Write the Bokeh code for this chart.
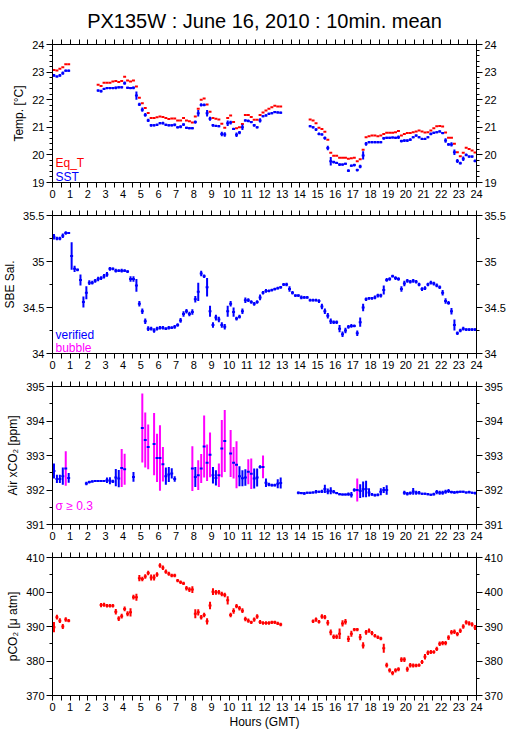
from bokeh.plotting import figure
from bokeh.models import (ColumnDataSource, LinearAxis, FixedTicker, Range1d,
                          Label, NumeralTickFormatter, CustomLabelingPolicy)
from bokeh.layouts import column
from bokeh.embed import file_html
from bokeh.resources import INLINE

N = None
FONT = "Liberation Sans"
RED, BLUE, MAGENTA = "#ff0000", "#0000ff", "#ff00ff"

TITLE = "PX135W : June 16, 2010 : 10min. mean"

# 10-minute mean slots over the day (minutes after 00:00 GMT)
SLOT_MINUTES = list(range(0, 1440, 10))
HOUR_TICKS = list(range(0, 25))
HALF_HOUR_TICKS = [h + 0.5 for h in range(24)]

# ---------------- Temperature [deg C] (one row per hour, 6 ten-minute means) -----
EQ_T = [
    [23.08, 23.06, 23.12, 23.18, 23.28, 23.28],
    [N, N, N, N, N, N],
    [N, N, N, 22.54, 22.50, 22.61],
    [22.61, 22.61, 22.66, 22.68, 22.64, 22.68],
    [22.83, 22.70, 22.66, 22.70, 22.48, 22.07],
    [21.87, 21.70, 21.52, 21.34, 21.34, 21.36],
    [21.39, 21.37, 21.34, 21.30, 21.32, 21.32],
    [21.25, 21.25, 21.34, 21.25, 21.22, 21.17],
    [21.39, 21.67, 22.00, 22.04, 21.83, 21.56],
    [21.34, 21.31, 21.28, 21.13, 20.98, 21.34],
    [21.43, 21.19, 20.97, 21.00, 21.12, 21.45],
    [21.45, 21.37, 21.27, 21.27, 21.45, 21.54],
    [21.61, 21.67, 21.73, 21.78, 21.75, 21.75],
    [N, N, N, N, N, N],
    [N, N, N, 21.28, 21.25, 21.15],
    [20.98, 20.94, 20.84, 20.55, 20.08, 19.97],
    [19.97, 19.90, 19.90, 19.90, 19.86, 19.88],
    [19.90, 19.77, 19.84, 20.19, 20.64, 20.68],
    [20.70, 20.70, 20.68, 20.70, 20.76, 20.80],
    [20.80, 20.80, 20.82, 20.87, 20.70, 20.76],
    [20.79, 20.79, 20.82, 20.85, 20.88, 20.85],
    [20.81, 20.82, 20.88, 20.97, 21.04, 21.05],
    [21.03, 20.81, 20.62, 20.62, 20.40, 20.10],
    [19.95, 20.08, 20.26, 20.21, 20.16, 20.09],
]
SST = [
    [22.88, 22.84, 22.88, 22.96, 23.05, 23.05],
    [N, N, N, N, N, N],
    [N, N, N, 22.33, 22.31, 22.39],
    [22.42, 22.42, 22.42, 22.43, 22.45, 22.45],
    [22.60, 22.43, 22.42, 22.43, 22.15, 21.83],
    [21.64, 21.45, 21.25, 21.07, 21.07, 21.09],
    [21.15, 21.15, 21.09, 21.07, 21.07, 21.09],
    [21.00, 21.02, 21.10, 20.98, 20.97, 20.97],
    [21.19, 21.51, 21.81, 21.81, 21.51, 21.31],
    [21.07, 21.05, 21.04, 20.76, 20.74, 21.15],
    [21.17, 20.94, 20.73, 20.81, 21.00, 21.25],
    [21.23, 21.19, 21.07, 21.00, 21.25, 21.40],
    [21.43, 21.49, 21.51, 21.55, 21.54, 21.53],
    [N, N, N, N, N, N],
    [N, N, N, 21.04, 21.00, 20.92],
    [20.76, 20.74, 20.61, 20.25, 19.77, 19.74],
    [19.71, 19.65, 19.65, 19.68, 19.43, 19.61],
    [19.63, 19.45, 19.58, 19.98, 20.40, 20.46],
    [20.46, 20.46, 20.46, 20.46, 20.60, 20.62],
    [20.62, 20.63, 20.62, 20.64, 20.50, 20.52],
    [20.52, 20.55, 20.64, 20.70, 20.64, 20.58],
    [20.58, 20.64, 20.76, 20.80, 20.82, 20.85],
    [20.79, 20.52, 20.38, 20.38, 20.10, 19.78],
    [19.70, 19.86, 20.00, 19.94, 19.94, 19.78],
]
SST_SD = [
    [0.05, 0.04, 0.05, 0.06, 0.04, 0.04],
    [N, N, N, N, N, N],
    [N, N, N, 0.04, 0.05, 0.04],
    [0.04, 0.04, 0.04, 0.05, 0.04, 0.04],
    [0.06, 0.04, 0.04, 0.05, 0.15, 0.06],
    [0.08, 0.07, 0.06, 0.05, 0.04, 0.04],
    [0.04, 0.05, 0.04, 0.04, 0.04, 0.05],
    [0.04, 0.05, 0.05, 0.04, 0.04, 0.04],
    [0.06, 0.12, 0.06, 0.05, 0.12, 0.07],
    [0.05, 0.04, 0.04, 0.08, 0.08, 0.10],
    [0.07, 0.04, 0.08, 0.06, 0.10, 0.04],
    [0.05, 0.04, 0.05, 0.04, 0.08, 0.04],
    [0.04, 0.04, 0.04, 0.04, 0.04, 0.04],
    [N, N, N, N, N, N],
    [N, N, N, 0.04, 0.04, 0.05],
    [0.05, 0.04, 0.06, 0.08, 0.15, 0.05],
    [0.04, 0.05, 0.04, 0.04, 0.05, 0.04],
    [0.05, 0.05, 0.06, 0.15, 0.07, 0.04],
    [0.04, 0.04, 0.04, 0.04, 0.05, 0.04],
    [0.04, 0.04, 0.04, 0.06, 0.05, 0.05],
    [0.05, 0.05, 0.04, 0.04, 0.04, 0.04],
    [0.04, 0.04, 0.05, 0.04, 0.04, 0.04],
    [0.04, 0.08, 0.05, 0.08, 0.10, 0.07],
    [0.05, 0.08, 0.05, 0.04, 0.04, 0.05],
]

# ---------------- SBE salinity -------------------------------------------------
SAL = [
    [35.27, 35.25, 35.25, 35.28, 35.31, 35.31],
    [35.06, 34.92, 34.91, 34.80, 34.56, 34.66],
    [34.77, 34.77, 34.79, 34.81, 34.82, 34.84],
    [34.86, 34.92, 34.92, 34.90, 34.90, 34.90],
    [34.90, 34.89, 34.81, 34.81, 34.74, 34.54],
    [34.46, 34.35, 34.27, 34.27, 34.25, 34.27],
    [34.28, 34.28, 34.27, 34.28, 34.28, 34.29],
    [34.31, 34.36, 34.43, 34.46, 34.43, 34.45],
    [34.59, 34.67, 34.87, 34.84, 34.72, 34.46],
    [34.31, 34.39, 34.37, 34.31, 34.29, 34.46],
    [34.54, 34.45, 34.38, 34.40, 34.46, 34.58],
    [34.58, 34.56, 34.54, 34.56, 34.61, 34.66],
    [34.68, 34.68, 34.69, 34.70, 34.71, 34.72],
    [34.75, 34.75, 34.70, 34.66, 34.63, 34.63],
    [34.61, 34.61, 34.61, 34.58, 34.58, 34.58],
    [34.57, 34.51, 34.46, 34.41, 34.35, 34.34],
    [34.34, 34.27, 34.21, 34.25, 34.29, 34.30],
    [34.30, 34.22, 34.34, 34.50, 34.59, 34.60],
    [34.60, 34.61, 34.63, 34.63, 34.69, 34.80],
    [34.81, 34.84, 34.82, 34.81, 34.70, 34.76],
    [34.79, 34.78, 34.79, 34.78, 34.75, 34.70],
    [34.71, 34.75, 34.77, 34.76, 34.74, 34.72],
    [34.66, 34.57, 34.55, 34.46, 34.31, 34.22],
    [34.25, 34.27, 34.26, 34.26, 34.26, 34.26],
]
SAL_SD = [
    [0.03, 0.02, 0.02, 0.025, 0.02, 0.01],
    [0.15, 0.035, 0.015, 0.06, 0.06, 0.07],
    [0.025, 0.02, 0.02, 0.025, 0.02, 0.025],
    [0.025, 0.02, 0.015, 0.02, 0.015, 0.02],
    [0.015, 0.015, 0.03, 0.03, 0.07, 0.03],
    [0.03, 0.03, 0.025, 0.02, 0.025, 0.02],
    [0.02, 0.02, 0.015, 0.02, 0.015, 0.02],
    [0.02, 0.025, 0.03, 0.025, 0.025, 0.03],
    [0.035, 0.10, 0.03, 0.02, 0.10, 0.06],
    [0.03, 0.03, 0.03, 0.03, 0.03, 0.06],
    [0.03, 0.05, 0.02, 0.02, 0.03, 0.03],
    [0.02, 0.02, 0.02, 0.02, 0.03, 0.02],
    [0.02, 0.015, 0.015, 0.015, 0.015, 0.015],
    [0.015, 0.02, 0.03, 0.02, 0.015, 0.015],
    [0.02, 0.015, 0.015, 0.015, 0.015, 0.015],
    [0.02, 0.03, 0.03, 0.03, 0.03, 0.02],
    [0.02, 0.04, 0.03, 0.03, 0.02, 0.02],
    [0.015, 0.03, 0.05, 0.04, 0.02, 0.015],
    [0.015, 0.02, 0.02, 0.02, 0.05, 0.02],
    [0.02, 0.015, 0.02, 0.02, 0.03, 0.03],
    [0.02, 0.02, 0.02, 0.02, 0.02, 0.02],
    [0.02, 0.02, 0.02, 0.02, 0.02, 0.02],
    [0.03, 0.03, 0.02, 0.035, 0.06, 0.02],
    [0.02, 0.02, 0.015, 0.015, 0.015, 0.015],
]

# ---------------- Air xCO2 [ppm] -------------------------------------------------
AIR = [
    [392.55, 392.32, 392.32, 392.40, 392.62, 392.35],
    [N, N, N, N, N, 392.19],
    [392.23, 392.25, 392.26, 392.26, 392.26, 392.26],
    [392.28, 392.27, 392.25, 392.36, 392.33, 392.64],
    [392.60, N, N, 392.38, N, N],
    [393.80, 393.45, 393.25, N, 393.33, 392.93],
    [392.93, 392.75, 392.40, 392.45, 392.48, 392.32],
    [N, N, N, N, N, 392.62],
    [392.38, 392.43, 392.62, 393.26, 392.79, 393.02],
    [392.43, 392.35, 392.43, 393.20, 393.42, N],
    [393.06, 392.79, 392.73, 392.40, 392.34, 392.36],
    [392.53, 392.47, 392.33, 392.36, 392.67, 392.67],
    [392.21, 392.16, 392.14, 392.14, 392.18, 392.20],
    [N, N, N, N, N, 391.92],
    [391.91, 391.90, 391.92, 391.92, 391.93, 391.95],
    [391.95, 391.96, 392.03, 391.96, 391.98, 391.95],
    [391.91, 391.88, 391.87, 391.87, 391.88, 391.86],
    [392.00, 392.00, 391.97, 392.02, 392.03, 391.93],
    [391.87, 391.85, 391.86, 391.95, 392.00, 392.00],
    [N, N, N, N, N, 391.92],
    [391.89, 391.91, 391.96, 391.92, 391.92, 391.89],
    [391.89, 391.88, 391.86, 391.88, 391.94, 391.92],
    [391.92, 391.95, 391.97, 391.94, 391.93, 391.94],
    [391.95, 391.95, 391.93, 391.94, 391.92, 391.91],
]
AIR_SD = [
    [0.22, 0.12, 0.12, 0.25, 0.50, 0.14],
    [N, N, N, N, N, 0.05],
    [0.04, 0.03, 0.03, 0.03, 0.03, 0.03],
    [0.08, 0.10, 0.05, 0.25, 0.25, 0.55],
    [0.45, N, N, 0.14, N, N],
    [1.00, 0.80, 0.65, N, 0.90, 0.70],
    [0.95, 0.50, 0.25, 0.22, 0.15, 0.08],
    [N, N, N, N, N, 0.65],
    [0.29, 0.43, 0.42, 0.90, 0.53, 0.65],
    [0.24, 0.22, 0.34, 0.83, 0.90, N],
    [0.68, 0.46, 0.68, 0.29, 0.23, 0.24],
    [0.36, 0.44, 0.29, 0.26, 0.05, 0.33],
    [0.12, 0.05, 0.04, 0.04, 0.13, 0.16],
    [N, N, N, N, N, 0.04],
    [0.03, 0.04, 0.03, 0.03, 0.03, 0.05],
    [0.03, 0.05, 0.12, 0.08, 0.10, 0.05],
    [0.03, 0.03, 0.03, 0.03, 0.05, 0.08],
    [0.05, 0.33, 0.20, 0.23, 0.24, 0.12],
    [0.04, 0.04, 0.04, 0.10, 0.09, 0.14],
    [N, N, N, N, N, 0.06],
    [0.05, 0.05, 0.10, 0.06, 0.05, 0.03],
    [0.03, 0.03, 0.03, 0.04, 0.06, 0.06],
    [0.06, 0.06, 0.06, 0.04, 0.04, 0.04],
    [0.03, 0.03, 0.03, 0.04, 0.03, 0.04],
]
SIGMA_LIMIT = 0.3

# ---------------- pCO2 [micro atm] -----------------------------------------------
PCO2 = [
    [389.8, 392.7, 391.7, 390.0, 392.0, 391.7],
    [N, N, N, N, N, N],
    [N, N, N, N, 396.2, 396.3],
    [396.0, 396.0, 396.0, 394.3, 392.3, 393.0],
    [395.1, 393.7, 394.1, 398.5, 398.5, 404.0],
    [403.8, 404.5, 405.5, 404.2, 404.2, 405.1],
    [407.7, 407.0, 405.9, 405.3, 404.8, 404.8],
    [403.3, 402.8, 402.5, 401.1, 400.7, 400.7],
    [393.7, 394.1, 392.7, 393.3, 391.5, 396.1],
    [400.1, 399.9, 399.9, 399.4, 399.1, 397.6],
    [393.3, 394.5, 395.9, 395.3, 394.6, 392.2],
    [391.7, 391.2, 392.0, 392.9, 391.3, 391.0],
    [391.0, 391.0, 391.2, 391.2, 390.9, 390.6],
    [N, N, N, N, N, N],
    [N, N, N, N, 391.5, 392.0],
    [391.4, 392.9, 392.7, 391.1, 388.3, 387.0],
    [387.0, 387.9, 390.9, 391.4, 386.4, 387.9],
    [389.1, 389.1, 386.9, 384.5, 388.3, 388.8],
    [388.1, 387.3, 386.9, 386.5, 383.7, 378.8],
    [377.3, 376.5, 377.3, 377.6, 380.4, 380.4],
    [377.6, 378.8, 378.7, 378.7, 378.8, 379.7],
    [381.2, 382.4, 382.6, 382.6, 383.5, 385.0],
    [385.2, 385.2, 386.8, 388.3, 388.5, 387.8],
    [388.8, 390.0, 391.2, 390.9, 390.6, 389.7],
]
PCO2_SD = [
    [1.5, 0.7, 0.7, 0.7, 0.65, 0.5],
    [N, N, N, N, N, N],
    [N, N, N, N, 0.6, 0.6],
    [0.5, 0.5, 0.5, 0.8, 0.7, 0.7],
    [0.7, 0.7, 1.2, 0.7, 1.0, 0.9],
    [0.65, 0.65, 0.65, 0.9, 0.9, 0.65],
    [0.65, 0.65, 0.6, 0.6, 0.5, 0.5],
    [0.5, 0.5, 0.5, 0.65, 0.7, 1.0],
    [1.3, 0.9, 0.65, 0.65, 0.9, 1.1],
    [1.0, 0.7, 0.65, 0.65, 0.65, 1.2],
    [0.65, 0.8, 0.6, 0.65, 0.7, 0.65],
    [0.6, 0.5, 0.6, 0.65, 0.6, 0.5],
    [0.5, 0.5, 0.5, 0.5, 0.5, 0.5],
    [N, N, N, N, N, N],
    [N, N, N, N, 0.5, 0.6],
    [0.5, 0.65, 0.6, 0.8, 0.8, 0.65],
    [0.65, 1.5, 0.9, 0.8, 0.9, 0.9],
    [0.5, 0.5, 0.9, 0.9, 0.7, 0.6],
    [0.6, 0.5, 0.5, 0.5, 1.3, 0.7],
    [0.6, 0.6, 0.6, 0.6, 0.7, 0.7],
    [0.7, 0.65, 0.6, 0.5, 0.5, 0.6],
    [0.8, 0.65, 0.6, 0.5, 0.6, 0.65],
    [0.6, 0.6, 0.7, 0.65, 0.65, 0.6],
    [0.65, 0.65, 0.6, 0.6, 0.6, 0.7],
]


def flat(rows):
    out = []
    for r in rows:
        out.extend(r)
    return out


HIDE_ALL_LABELS = """
try {
  for (let i = 0; i < indices.size; i++) { indices.unset(i); }
} catch (e) {}
return indices;
"""


def style_axis(ax, tick_out, minor_out, labels=True, fmt=None):
    ax.axis_line_color = "black"
    ax.major_tick_line_color = "black"
    ax.minor_tick_line_color = "black"
    ax.major_tick_in = 0
    ax.minor_tick_in = 0
    ax.major_tick_out = tick_out
    ax.minor_tick_out = minor_out
    ax.major_label_text_font = FONT
    ax.major_label_text_color = "black"
    ax.axis_label_text_font = FONT
    ax.axis_label_text_font_style = "normal"
    ax.axis_label_text_font_size = "12px"
    ax.axis_label_text_color = "black"
    ax.axis_label_standoff = 3
    if labels:
        ax.major_label_text_font_size = "11px"
        ax.major_label_standoff = 2
    else:
        ax.major_label_text_font_size = "0px"
        ax.major_label_standoff = 0
        ax.major_label_policy = CustomLabelingPolicy(code=HIDE_ALL_LABELS)
    if fmt is not None:
        ax.formatter = fmt


def make_panel(ylabel, ylo, yhi, ymajor, yminor, top, bottom, title=None, xlabel=None):
    kw = dict(frame_width=424, frame_height=138,
              x_range=Range1d(0, 24), y_range=Range1d(ylo, yhi),
              output_backend="svg", toolbar_location=None,
              min_border_left=45, min_border_right=30,
              min_border_top=top, min_border_bottom=bottom,
              background_fill_color="white", border_fill_color="white")
    if title:
        kw["title"] = title
    p = figure(**kw)
    p.grid.visible = False
    p.outline_line_color = "black"
    p.outline_line_width = 1
    if title:
        p.title.text_font = FONT
        p.title.text_font_size = "20px"
        p.title.text_font_style = "normal"
        p.title.align = "center"
        p.title.text_color = "black"
        p.title.standoff = 15

    xt = FixedTicker(ticks=HOUR_TICKS, minor_ticks=HALF_HOUR_TICKS)
    yt = FixedTicker(ticks=ymajor, minor_ticks=yminor)

    xb = p.xaxis[0]
    xb.ticker = xt
    style_axis(xb, 5, 5, labels=True, fmt=NumeralTickFormatter(format="0"))
    if xlabel:
        xb.axis_label = xlabel
        xb.axis_label_standoff = 1

    yl = p.yaxis[0]
    yl.ticker = yt
    style_axis(yl, 6, 3, labels=True, fmt=NumeralTickFormatter(format="0.[0]"))
    yl.axis_label = ylabel
    yl.axis_label_standoff = 3

    xtop = LinearAxis(ticker=FixedTicker(ticks=HOUR_TICKS, minor_ticks=HALF_HOUR_TICKS))
    style_axis(xtop, 5, 5, labels=False)
    p.add_layout(xtop, "above")

    yr = LinearAxis(ticker=FixedTicker(ticks=ymajor, minor_ticks=yminor))
    style_axis(yr, 6, 3, labels=True, fmt=NumeralTickFormatter(format="0.[0]"))
    p.add_layout(yr, "right")
    return p


def draw_points(p, values, sds, hcolor, vcolors):
    hx0, hx1, hy = [], [], []
    vx, vy0, vy1, vc = [], [], [], []
    for m, v, s, c in zip(SLOT_MINUTES, values, sds, vcolors):
        if v is None:
            continue
        hx0.append(m / 60.0)
        hx1.append((m + 10) / 60.0)
        hy.append(v)
        if s:
            vx.append((m + 5) / 60.0)
            vy0.append(v - s)
            vy1.append(v + s)
            vc.append(c)
    vsrc = ColumnDataSource(dict(x=vx, y0=vy0, y1=vy1, c=vc))
    p.segment(x0="x", x1="x", y0="y0", y1="y1", color="c", line_width=2,
              source=vsrc)
    hsrc = ColumnDataSource(dict(x0=hx0, x1=hx1, y=hy))
    p.segment(x0="x0", x1="x1", y0="y", y1="y", color=hcolor, line_width=2,
              source=hsrc)


def legend_text(p, text, x, y, color):
    p.add_layout(Label(x=x, y=y, text=text, text_color=color,
                       text_font=FONT, text_font_size="12px",
                       text_baseline="alphabetic", text_align="left"))


eq_t = flat(EQ_T)
sst, sst_sd = flat(SST), flat(SST_SD)
sal, sal_sd = flat(SAL), flat(SAL_SD)
air, air_sd = flat(AIR), flat(AIR_SD)
pco2, pco2_sd = flat(PCO2), flat(PCO2_SD)

# Panel 1: temperatures
p1 = make_panel("Temp. [°C]", 19, 24, [19, 20, 21, 22, 23, 24],
                [19 + 0.2 * i for i in range(26)], top=36, bottom=21, title=TITLE)
draw_points(p1, eq_t, [None] * len(eq_t), RED, [RED] * len(eq_t))
draw_points(p1, sst, sst_sd, BLUE, [BLUE] * len(sst))
legend_text(p1, "Eq_T", 0.17, 19.71, RED)
legend_text(p1, "SST", 0.17, 19.19, BLUE)

# Panel 2: salinity
p2 = make_panel("SBE Sal.", 34, 35.5, [34, 34.5, 35, 35.5],
                [34 + 0.25 * i for i in range(7)], top=12, bottom=21)
draw_points(p2, sal, sal_sd, BLUE, [BLUE] * len(sal))
legend_text(p2, "verified", 0.17, 34.205, BLUE)
legend_text(p2, "bubble", 0.17, 34.065, MAGENTA)

# Panel 3: atmospheric xCO2
p3 = make_panel("Air xCO₂ [ppm]", 391, 395, [391, 392, 393, 394, 395],
                [391 + 0.5 * i for i in range(9)], top=12, bottom=21)
air_colors = [MAGENTA if (s is not None and s >= SIGMA_LIMIT) else BLUE for s in air_sd]
draw_points(p3, air, air_sd, BLUE, air_colors)
legend_text(p3, "σ ≥ 0.3", 0.17, 391.54, MAGENTA)

# Panel 4: seawater pCO2
p4 = make_panel("pCO₂ [μ atm]", 370, 410, [370, 380, 390, 400, 410],
                [370 + 5 * i for i in range(9)], top=12, bottom=35,
                xlabel="Hours (GMT)")
draw_points(p4, pco2, pco2_sd, RED, [RED] * len(pco2))

layout = column(p1, p2, p3, p4, spacing=0)
open("out.html", "w").write(file_html(layout, INLINE))
